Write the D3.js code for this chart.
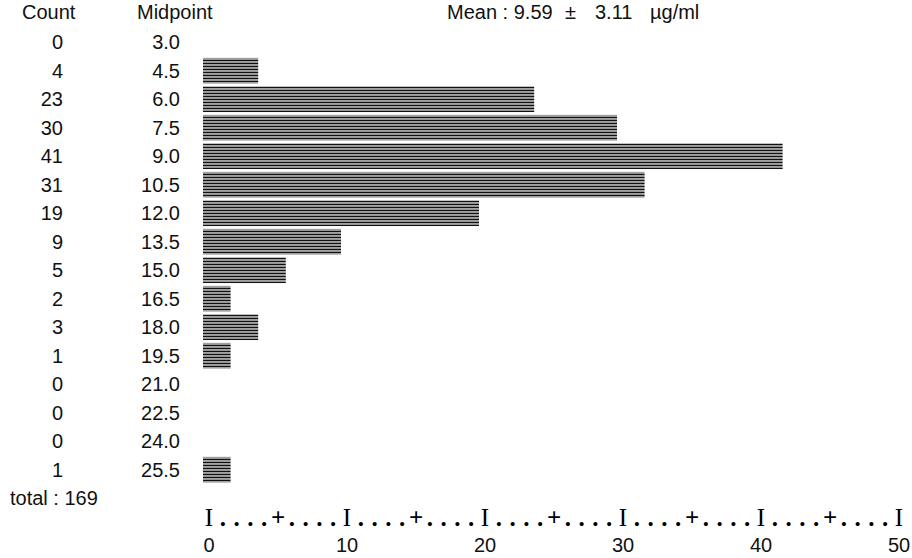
<!DOCTYPE html>
<html>
<head>
<meta charset="utf-8">
<script src="https://cdn.jsdelivr.net/npm/d3@7"></script>
<style>
  html, body { margin: 0; padding: 0; background: #fff; }
  svg { display: block; }
  text { font-family: "Liberation Sans", Arial, sans-serif; font-size: 20px; fill: #111; }
</style>
</head>
<body>
<div id="root"></div>
<script>
// histogram data
const midpoints = ["3.0", "4.5", "6.0", "7.5", "9.0", "10.5", "12.0", "13.5",
  "15.0", "16.5", "18.0", "19.5", "21.0", "22.5", "24.0", "25.5"]
const counts = [0, 4, 23, 30, 41, 31, 19, 9, 5, 2, 3, 1, 0, 0, 0, 1]
const total = 169
const meanValue = "9.59"
const sdValue = "3.11"
const unit = "µg/ml"
const tickLabels = [0, 10, 20, 30, 40, 50]

function drawHistogram() {
  const width = 912
  const height = 558

  const ROOT_ELEM = d3.select("#root")
  ROOT_ELEM.selectAll("*").remove()

  const svg = ROOT_ELEM.append("svg")
    .attr("width", width)
    .attr("height", height)

  // striped fill, like the line-printer bars
  const defs = svg.append("defs")
  const pat = defs.append("pattern")
    .attr("id", "stripes")
    .attr("patternUnits", "userSpaceOnUse")
    .attr("width", 8)
    .attr("height", 3)
  pat.append("rect").attr("width", 8).attr("height", 3).attr("fill", "#fff")
  pat.append("rect").attr("y", 0).attr("width", 8).attr("height", 1.4).attr("fill", "#111")
  pat.append("rect").attr("y", 2).attr("width", 8).attr("height", 0.7).attr("fill", "#666")

  const xScale = d3.scaleLinear()
    .domain([0, 50])
    .range([209, 899])

  const yScale = d3.scaleBand()
    .domain(midpoints)
    .range([28, 484])
    .paddingInner(0.1)
    .paddingOuter(0.05)

  const rowY = d => yScale(d) + yScale.bandwidth() / 2

  // headers
  svg.append("text").attr("x", 22).attr("y", 19).text("Count")
  svg.append("text").attr("x", 137).attr("y", 19).text("Midpoint")

  const title = svg.append("text").attr("y", 19)
  title.append("tspan").attr("x", 447).text(`Mean : ${meanValue}`)
  title.append("tspan").attr("x", 565).text("±")
  title.append("tspan").attr("x", 595).text(sdValue)
  title.append("tspan").attr("x", 650).text(unit)

  const rows = midpoints.map((m, i) => ({ mid: m, count: counts[i] }))

  // count column
  svg.selectAll(".count")
    .data(rows)
    .join("text")
    .attr("class", "count")
    .attr("x", 63)
    .attr("y", d => rowY(d.mid) + 7)
    .attr("text-anchor", "end")
    .text(d => d.count)

  // midpoint column
  svg.selectAll(".mid")
    .data(rows)
    .join("text")
    .attr("class", "mid")
    .attr("x", 180)
    .attr("y", d => rowY(d.mid) + 7)
    .attr("text-anchor", "end")
    .text(d => d.mid)

  svg.append("text")
    .attr("x", 10)
    .attr("y", rowY(midpoints[midpoints.length - 1]) + yScale.step() + 7)
    .text(`total : ${total}`)

  // bars: each printed symbol stands for two cases
  const cellOffset = 6
  svg.selectAll(".bar")
    .data(rows.filter(d => d.count > 0))
    .join("rect")
    .attr("class", "bar")
    .attr("x", xScale(0) - cellOffset)
    .attr("y", d => yScale(d.mid))
    .attr("width", d => xScale(Math.ceil(d.count / 2) * 2) - xScale(0))
    .attr("height", yScale.bandwidth())
    .attr("fill", "url(#stripes)")

  // printer-style axis: I every 10, + every 5, dots between
  const axisY = 526
  svg.selectAll(".axchar")
    .data(d3.range(0, 51))
    .join("text")
    .attr("class", "axchar")
    .attr("x", d => xScale(d))
    .attr("y", axisY)
    .attr("text-anchor", "middle")
    .style("font-family", "'Liberation Serif', 'DejaVu Serif', serif")
    .style("font-size", "25px")
    .style("font-weight", d => d % 10 === 0 ? "normal" : "bold")
    .style("fill", "#000")
    .text(d => d % 10 === 0 ? "I" : d % 5 === 0 ? "+" : ".")

  svg.selectAll(".tick")
    .data(tickLabels)
    .join("text")
    .attr("class", "tick")
    .attr("x", d => xScale(d))
    .attr("y", 552)
    .attr("text-anchor", "middle")
    .text(d => d)
}

drawHistogram()
</script>
</body>
</html>
